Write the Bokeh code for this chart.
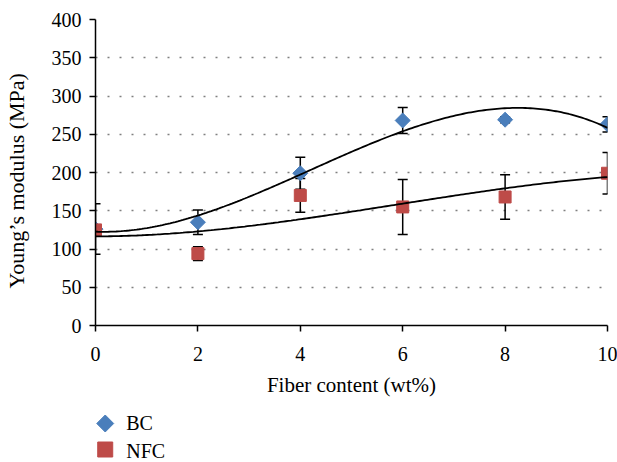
import numpy as np
from bokeh.plotting import figure
from bokeh.layouts import column
from bokeh.core.properties import value
from bokeh.models import (ColumnDataSource, Whisker, TeeHead, Range1d, FactorRange,
                          FixedTicker)
from bokeh.embed import file_html
from bokeh.resources import INLINE

# ---- data ----
fiber_content = [0, 2, 4, 6, 8, 10]
bc_modulus = [126, 135, 199, 268, 269, 263]
bc_error = [33, 16, 21, 17, 4, 10]
nfc_modulus = [125, 94, 170, 155, 168, 199]
nfc_error = [3, 9, 22, 36, 29, 27]
x_ticks = [0, 2, 4, 6, 8, 10]
y_ticks = [0, 50, 100, 150, 200, 250, 300, 350, 400]
series_names = ["BC", "NFC"]

BLUE = "#4A7EBB"
RED = "#BE4B48"
FONT = "Liberation Serif"
NB = "\u00a0"

x_range = Range1d(0, 10)
p = figure(width=617, height=410, x_range=x_range, y_range=Range1d(0, 400),
           output_backend="svg", toolbar_location=None,
           min_border_left=92, min_border_right=10, min_border_top=19,
           min_border_bottom=85)
p.outline_line_color = None
p.xgrid.visible = False
p.ygrid.ticker = FixedTicker(ticks=y_ticks[1:])
p.ygrid.grid_line_color = "#808080"
p.ygrid.grid_line_dash = "2 10"
p.ygrid.grid_line_width = 1.5

p.xaxis.ticker = FixedTicker(ticks=x_ticks, minor_ticks=[])
p.yaxis.ticker = FixedTicker(ticks=y_ticks, minor_ticks=[])
for ax in (p.xaxis[0], p.yaxis[0]):
    ax.axis_line_color = "black"
    ax.axis_line_width = 1.5
    ax.major_tick_line_color = "black"
    ax.major_tick_line_width = 1.5
    ax.major_tick_in = 0
    ax.major_tick_out = 6
    ax.minor_tick_line_color = None
    ax.major_label_text_font = FONT
    ax.major_label_text_font_size = "20px"
    ax.major_label_text_color = "black"
    ax.axis_label_text_font = FONT
    ax.axis_label_text_font_style = "normal"
    ax.axis_label_text_color = "black"

p.xaxis.axis_label = "Fiber content (wt%)"
p.yaxis.axis_label = "Young\u2019s modulus (MPa)" + NB * 3
p.xaxis.axis_label_text_font_size = "21px"
p.yaxis.axis_label_text_font_size = "22px"
p.xaxis.major_label_standoff = 15
p.yaxis.major_label_standoff = 8
p.xaxis.axis_label_standoff = 9
p.yaxis.axis_label_standoff = 20

def add_series(values, errors):
    src = ColumnDataSource(dict(
        x=fiber_content, y=values,
        upper=[v + e for v, e in zip(values, errors)],
        lower=[v - e for v, e in zip(values, errors)]))
    w = Whisker(base="x", upper="upper", lower="lower", source=src,
                dimension="height", line_color="black", line_width=1.5,
                upper_head=TeeHead(size=10, line_color="black", line_width=1.5),
                lower_head=TeeHead(size=10, line_color="black", line_width=1.5),
                level="underlay")
    p.add_layout(w)
    return src

bc_src = add_series(bc_modulus, bc_error)
nfc_src = add_series(nfc_modulus, nfc_error)
p.scatter("x", "y", source=bc_src, marker="square", angle=np.pi / 4, size=10.6,
          fill_color=BLUE, line_color=BLUE)
p.scatter("x", "y", source=nfc_src, marker="square", size=12,
          fill_color=RED, line_color=RED)

# cubic polynomial trendlines fitted to each series
xs = np.linspace(min(fiber_content), max(fiber_content), 200)
for vals in (bc_modulus, nfc_modulus):
    c = np.polyfit(fiber_content, vals, 3)
    p.line(xs, np.polyval(c, xs), line_color="black", line_width=1.8)

# ---- legend strip below the chart (one row per series), same x frame ----
pl = figure(width=617, height=52, x_range=x_range,
            y_range=FactorRange(factors=series_names[::-1]),
            output_backend="svg", toolbar_location=None,
            min_border_left=92, min_border_right=10, min_border_top=0,
            min_border_bottom=0)
pl.axis.visible = False
pl.grid.visible = False
pl.outline_line_color = None
leg_src = ColumnDataSource(dict(
    name=series_names,
    angle=[np.pi / 4, 0],
    size=[12, 15],
    color=[BLUE, RED],
    dy=[-1, 1]))
pl.scatter(x=0.19, y="name", source=leg_src, marker="square", angle="angle",
           size="size", fill_color="color", line_color="color")
pl.text(x=0.6, y="name", text="name", source=leg_src, y_offset="dy",
        text_font=value(FONT), text_font_size="20px", text_color="black",
        text_baseline="middle", text_align="left")

open("out.html", "w").write(file_html(column(p, pl, spacing=0), INLINE))
